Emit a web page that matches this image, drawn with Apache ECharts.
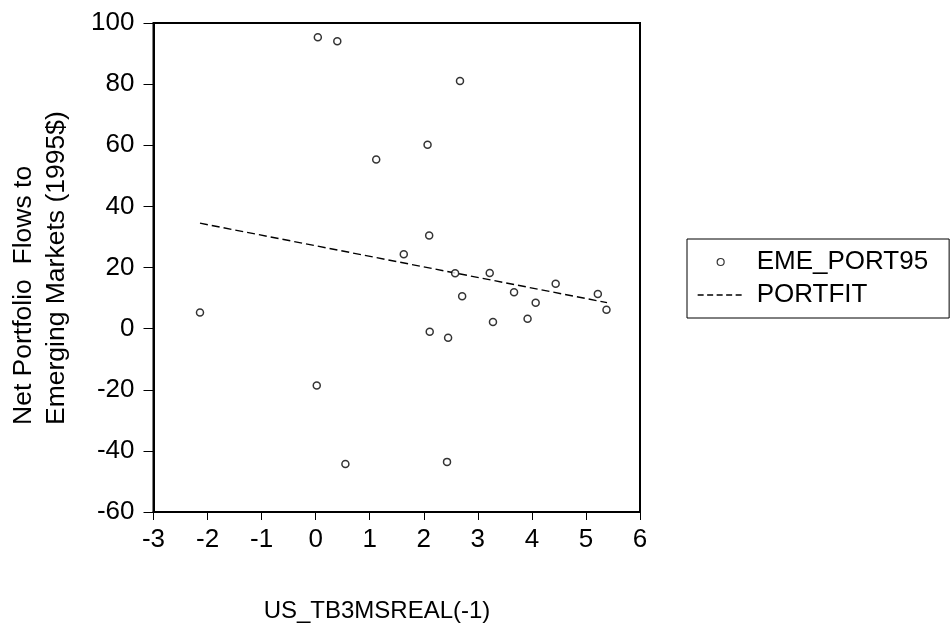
<!DOCTYPE html>
<html>
<head>
<meta charset="utf-8">
<script src="https://cdn.jsdelivr.net/npm/echarts@6/dist/echarts.min.js"></script>
<style>
  html, body { margin: 0; padding: 0; background: #fff; }
  #chart { width: 952px; height: 628px; }
</style>
</head>
<body>
<div id="chart"></div>
<script>
// Lagged real 3-month T-bill rate vs. net portfolio flows (1995$)
const rateLag = [0.04, 0.40, 2.67, 2.07, 1.12, 2.10, 1.63, 2.58, 3.22, 4.44, 2.71, 3.67,
                 5.22, 4.07, 5.38, -2.14, 3.92, 3.28, 2.11, 2.45, 0.02, 2.43, 0.55];
const portFlows = [95.3, 94.0, 81.0, 60.2, 55.3, 30.5, 24.3, 18.1, 18.2, 14.7, 10.6, 11.9,
                   11.3, 8.5, 6.2, 5.3, 3.2, 2.2, -1.0, -3.0, -18.6, -43.6, -44.3];

// Fitted regression line end points
const fitX = [-2.14, 5.39];
const fitY = [34.5, 8.5];

const xTicks = { min: -3, max: 6, step: 1 };
const yTicks = { min: -60, max: 100, step: 20 };

const seriesNames = ['EME_PORT95', 'PORTFIT'];
const xTitle = 'US_TB3MSREAL(-1)';
const yTitle = 'Net Portfolio  Flows to\nEmerging Markets (1995$)';

const FONT = "'Liberation Sans', Arial, sans-serif";

const chart = echarts.init(document.getElementById('chart'), null, { renderer: 'canvas' });

chart.setOption({
  animation: false,
  backgroundColor: '#fff',
  textStyle: { fontFamily: FONT, color: '#000' },
  grid: {
    left: 153.5, right: 312, top: 23, bottom: 116,
    show: true, borderColor: '#000', borderWidth: 2, backgroundColor: 'transparent'
  },
  xAxis: {
    type: 'value',
    min: xTicks.min, max: xTicks.max, interval: xTicks.step,
    splitLine: { show: false },
    axisLine: { show: true, onZero: false, lineStyle: { color: '#000', width: 2 } },
    axisTick: { show: true, inside: false, length: 8, lineStyle: { color: '#000', width: 1 } },
    axisLabel: { color: '#000', fontSize: 26, fontFamily: FONT, margin: 15 }
  },
  yAxis: {
    type: 'value',
    min: yTicks.min, max: yTicks.max, interval: yTicks.step,
    splitLine: { show: false },
    axisLine: { show: true, onZero: false, lineStyle: { color: '#000', width: 2 } },
    axisTick: { show: true, inside: false, length: 10, lineStyle: { color: '#000', width: 1 } },
    axisLabel: { color: '#000', fontSize: 26, fontFamily: FONT, margin: 19, padding: [0, 0, 8, 0] }
  },
  legend: {
    orient: 'vertical',
    left: 687, top: 239,
    data: [
      { name: seriesNames[0], icon: 'circle', itemStyle: { color: '#fff', borderColor: '#000', borderWidth: 1.2 } },
      { name: seriesNames[1], itemStyle: { color: 'rgba(0,0,0,0)', borderWidth: 0, opacity: 0 },
        lineStyle: { color: '#000', width: 1.3, type: [6, 3.5] } }
    ],
    itemWidth: 46, itemHeight: 7, itemGap: 5,
    padding: [9, 21, 9, 10],
    borderColor: '#000', borderWidth: 1,
    textStyle: { fontSize: 26, fontFamily: FONT, color: '#000', lineHeight: 28, padding: [0, 0, 0, 8] },
    selectedMode: false
  },
  graphic: [
    {
      type: 'text', x: 377, y: 611,
      style: { text: xTitle, font: '24px ' + FONT, fill: '#000', align: 'center', verticalAlign: 'middle' }
    },
    {
      type: 'text', x: 40, y: 425, rotation: Math.PI / 2,
      style: { text: yTitle, font: '26.5px ' + FONT, fill: '#000', align: 'left', verticalAlign: 'middle', lineHeight: 33 }
    }
  ],
  series: [
    {
      name: seriesNames[0],
      type: 'scatter',
      data: rateLag.map((x, i) => [x, portFlows[i]]),
      symbol: 'circle', symbolSize: 7,
      itemStyle: { color: '#fff', borderColor: '#000', borderWidth: 1.5 },
      z: 3
    },
    {
      name: seriesNames[1],
      type: 'line',
      data: fitX.map((x, i) => [x, fitY[i]]),
      symbol: 'none',
      itemStyle: { color: '#000' },
      lineStyle: { color: '#000', width: 1.4, type: [8, 4] },
      z: 2
    }
  ]
});
</script>
</body>
</html>
